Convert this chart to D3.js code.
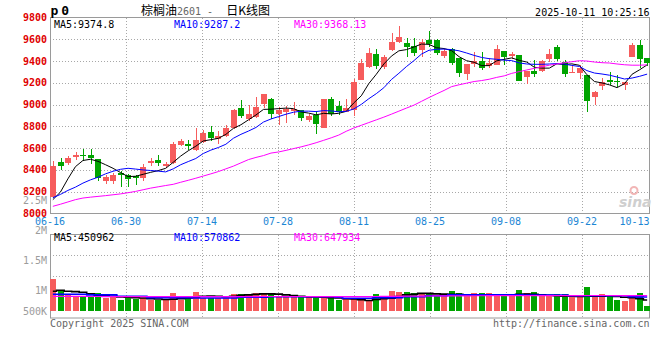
<!DOCTYPE html>
<html>
<head>
<meta charset="utf-8">
<script src="https://cdn.jsdelivr.net/npm/d3@7"></script>
<style>
    body { margin: 0; background: #fff; }
    svg text { font-family: "DejaVu Sans Mono", monospace; font-size: 10px; }
</style>
</head>
<body>
<svg id="chart" width="660" height="360"></svg>
<script>
// trading days shown on the chart
const dates = ["06-16","06-17","06-18","06-19","06-20","06-23","06-24","06-25","06-26","06-27",
    "06-30","07-01","07-02","07-03","07-04","07-07","07-08","07-09","07-10","07-11",
    "07-14","07-15","07-16","07-17","07-18","07-21","07-22","07-23","07-24","07-25",
    "07-28","07-29","07-30","07-31","08-01","08-04","08-05","08-06","08-07","08-08",
    "08-11","08-12","08-13","08-14","08-15","08-18","08-19","08-20","08-21","08-22",
    "08-25","08-26","08-27","08-28","08-29","09-01","09-02","09-03","09-04","09-05",
    "09-08","09-09","09-10","09-11","09-12","09-15","09-16","09-17","09-18","09-19",
    "09-22","09-23","09-24","09-25","09-26","09-29","09-30","10-09","10-10","10-13"]

const openP = [8151,8475,8464,8515,8536,8536,8496,8294,8294,8373,
    8357,8348,8324,8464,8491,8433,8464,8627,8642,8587,
    8657,8751,8682,8712,8782,8969,8864,8884,9005,9051,
    8915,8933,8945,8948,8857,8909,8787,9051,8984,8930,
    8947,9230,9344,9466,9348,9500,9575,9566,9535,9498,
    9590,9594,9448,9515,9424,9278,9370,9400,9355,9364,
    9494,9448,9455,9257,9309,9312,9418,9533,9394,9294,
    9294,9273,9066,9173,9227,9221,9182,9433,9545,9424]
const highP = [8478,8509,8530,8562,8594,8589,8500,8353,8369,8394,
    8366,8351,8453,8509,8539,8475,8657,8685,8673,8782,
    8764,8803,8757,8812,8964,9045,9000,9073,9100,9060,
    8975,8991,9021,8955,8912,8939,9051,9066,9036,9051,
    9235,9418,9518,9515,9455,9662,9725,9612,9616,9603,
    9675,9603,9515,9518,9430,9375,9480,9485,9424,9545,
    9494,9485,9460,9309,9409,9409,9515,9545,9409,9364,
    9364,9273,9127,9248,9303,9273,9212,9570,9591,9430]
const lowP = [8145,8400,8445,8489,8485,8453,8296,8275,8275,8244,
    8239,8266,8294,8439,8433,8418,8455,8618,8582,8575,
    8648,8666,8642,8703,8773,8878,8848,8875,8969,8864,
    8812,8827,8903,8848,8839,8733,8787,8894,8903,8930,
    8894,9227,9333,9330,9325,9494,9569,9439,9444,9439,
    9525,9457,9424,9364,9257,9227,9348,9318,9333,9362,
    9364,9418,9221,9187,9251,9303,9394,9397,9257,9288,
    9233,8930,8994,9130,9182,9166,9136,9433,9333,9355]
const closeP = [8433,8433,8512,8539,8527,8512,8325,8339,8357,8353,
    8316,8325,8430,8478,8464,8455,8642,8666,8624,8678,
    8742,8694,8712,8787,8948,8894,8915,8982,9094,8915,
    8953,8960,8960,8878,8900,8824,9051,8915,8930,8969,
    9212,9380,9476,9357,9439,9573,9625,9530,9478,9573,
    9560,9471,9491,9385,9294,9373,9400,9339,9385,9515,
    9439,9469,9221,9309,9278,9400,9469,9418,9278,9303,
    9339,9030,9112,9212,9212,9215,9212,9545,9418,9378]

const ma5 = [8127,8196,8318,8430,8487,8498,8479,8448,8415,8376,
    8339,8342,8360,8378,8394,8415,8470,8528,8576,8618,
    8666,8678,8690,8727,8782,8815,8860,8905,8956,8958,
    8963,8968,8963,8933,8922,8906,8920,8914,8920,8938,
    9015,9081,9193,9279,9373,9445,9494,9505,9529,9556,
    9553,9522,9515,9496,9440,9403,9389,9358,9358,9402,
    9416,9429,9406,9391,9343,9335,9335,9375,9369,9374,
    9361,9274,9212,9199,9181,9156,9193,9279,9320,9365]
const ma10 = [8145,8175,8212,8242,8279,8309,8333,8364,8388,8406,
    8415,8408,8400,8395,8389,8382,8410,8448,8477,8505,
    8551,8582,8606,8636,8691,8727,8757,8790,8840,8868,
    8890,8912,8930,8940,8940,8936,8945,8942,8934,8938,
    8960,9002,9054,9101,9155,9230,9288,9349,9404,9464,
    9499,9508,9510,9505,9494,9474,9452,9433,9422,9416,
    9408,9404,9383,9373,9370,9370,9373,9377,9372,9360,
    9350,9312,9290,9281,9270,9253,9235,9244,9260,9280]
const ma30 = [8066,8085,8106,8127,8142,8150,8157,8164,8172,8180,
    8191,8203,8218,8233,8245,8257,8268,8287,8305,8324,
    8344,8364,8385,8410,8435,8465,8495,8515,8532,8555,
    8565,8580,8596,8612,8630,8650,8672,8695,8720,8755,
    8785,8810,8835,8860,8885,8912,8940,8968,8995,9030,
    9065,9098,9130,9165,9182,9197,9212,9221,9233,9250,
    9264,9287,9303,9318,9333,9348,9362,9373,9385,9394,
    9403,9400,9391,9385,9382,9373,9366,9362,9362,9365]

// volume in thousands of lots
const volume = [1294,831,641,571,571,600,722,546,627,437,
    546,490,546,464,464,437,722,437,627,763,
    546,546,546,546,682,682,682,722,682,682,
    600,571,571,571,571,571,571,546,437,546,
    546,437,437,682,600,804,763,763,722,682,
    722,641,682,804,722,641,722,722,722,682,
    641,641,845,722,763,600,600,682,682,600,
    600,967,600,682,600,437,396,600,722,192]
const volMa5 = [804,845,804,790,763,700,650,620,600,570,
    560,546,530,500,490,470,480,500,530,560,
    600,610,600,580,600,640,660,680,700,700,
    690,660,630,600,580,570,560,546,531,500,
    490,460,430,470,500,520,590,660,680,720,
    720,700,690,680,680,660,660,650,650,650,
    640,640,680,690,680,660,640,620,600,600,
    590,620,600,600,620,590,560,540,500,451]
const volMa10 = [682,682,682,682,682,660,660,660,660,600,
    600,600,600,540,540,540,540,540,540,530,
    530,530,530,530,530,560,560,560,560,580,
    580,580,580,580,580,580,580,580,560,520,
    520,520,520,540,540,540,540,580,580,580,
    620,620,620,660,660,660,660,660,660,660,
    660,660,660,650,650,650,650,650,650,620,
    620,620,620,620,620,620,620,580,575,571]
const volMa30 = [596,595,594,594,593,592,591,590,590,589,
    588,588,587,587,586,586,586,586,586,586,
    586,586,586,587,587,588,589,590,591,592,
    592,592,592,592,591,590,589,588,587,586,
    586,588,590,592,595,598,601,604,607,610,
    612,614,616,618,620,621,622,623,624,625,
    626,627,628,629,630,630,630,630,630,630,
    630,632,632,632,632,630,628,628,628,627]

const priceTicks = [8000,8200,8400,8600,8800,9000,9200,9400,9600,9800]
const volTicks = [2500,2000,1500,1000,500]
const volTickLabels = ["2.5M","2M","1.5M","1M","500K"]
const dateTicks = ["06-16","06-30","07-14","07-28","08-11","08-25","09-08","09-22","10-13"]
const priceLegend = ["MA5:9374.8","MA10:9287.2","MA30:9368.13"]
const volLegend = ["MA5:450962","MA10:570862","MA30:647934"]
const maColors = ["#000000","#0000ff","#ff00ff"]

const upColor = "#f65c5c"
const downColor = "#00a400"
const gridColor = "#a8a8a8"
const frameColor = "#9a9a9a"

const svg = d3.select("#chart")
const left = 50, right = 649.5
const volTop = 234.5, volBottom = 318

const x = d3.scaleBand().domain(dates).range([50, 650]).paddingInner(0.24).paddingOuter(0)
const y = d3.scaleLinear().domain([8000, 9800]).range([213.5, 17.5])
const vy = d3.scaleLinear().domain([0, 1000]).range([311, 286.5])
const vLabel = d3.scaleLinear().domain([655, 2500]).range([311, 200]).clamp(true)
const xt = d3.scalePoint().domain(dateTicks).range([50, 658])
const cx = d => x(d) + x.bandwidth() / 2
const crisp = v => Math.round(v) + 0.5

// grid
const grid = svg.append("g").attr("stroke", gridColor).attr("stroke-dasharray", "1,2").attr("shape-rendering", "crispEdges")
grid.selectAll(".hp").data(priceTicks.slice(1, -1)).enter().append("line")
    .attr("x1", left).attr("x2", right)
    .attr("y1", d => crisp(y(d))).attr("y2", d => crisp(y(d)))
grid.selectAll(".vp").data(dateTicks.slice(1, -1)).enter().append("line")
    .attr("x1", d => crisp(xt(d))).attr("x2", d => crisp(xt(d)))
    .attr("y1", y(9800)).attr("y2", y(8000))
grid.selectAll(".vv").data(dateTicks.slice(1, -1)).enter().append("line")
    .attr("x1", d => crisp(xt(d))).attr("x2", d => crisp(xt(d)))
    .attr("y1", volTop).attr("y2", volBottom)
grid.selectAll(".hv").data([1, 2]).enter().append("line")
    .attr("x1", left).attr("x2", right)
    .attr("y1", d => crisp(volTop + (volBottom - volTop) * d / 4))
    .attr("y2", d => crisp(volTop + (volBottom - volTop) * d / 4))

// frames
svg.append("rect").attr("x", left + 0.5).attr("y", y(9800)).attr("width", right - left - 0.5)
    .attr("height", y(8000) - y(9800)).attr("fill", "none").attr("stroke", frameColor)
svg.append("rect").attr("x", left + 0.5).attr("y", volTop).attr("width", right - left - 0.5)
    .attr("height", volBottom - volTop).attr("fill", "none").attr("stroke", frameColor)

// sina watermark
const wm = svg.append("g")
wm.append("circle").attr("cx", 634).attr("cy", 190.5).attr("r", 3.5)
    .attr("fill", "none").attr("stroke", "#f2b6b6").attr("stroke-width", 2)
wm.append("text").attr("x", 619).attr("y", 207)
    .style("font-family", "DejaVu Sans").style("font-size", "14px")
    .style("font-style", "italic").style("font-weight", "bold")
    .attr("fill", "#cfcfcf").text("sina")

// candles
const idx = d3.range(dates.length)
const colorOf = i => closeP[i] >= openP[i] ? upColor : downColor
const bw = Math.round(x.bandwidth())
const candles = svg.append("g").attr("shape-rendering", "crispEdges")
candles.selectAll("line").data(idx).enter().append("line")
    .attr("x1", i => Math.round(x(dates[i])) + Math.floor(bw / 2) + 0.5)
    .attr("x2", i => Math.round(x(dates[i])) + Math.floor(bw / 2) + 0.5)
    .attr("y1", i => y(highP[i])).attr("y2", i => y(lowP[i]))
    .attr("stroke", colorOf)
candles.selectAll("rect").data(idx).enter().append("rect")
    .attr("x", i => Math.round(x(dates[i])))
    .attr("width", bw)
    .attr("y", i => y(Math.max(openP[i], closeP[i])))
    .attr("height", i => Math.max(1, Math.abs(y(openP[i]) - y(closeP[i]))))
    .attr("fill", colorOf)

// price moving averages
const priceLine = d3.line().x((d, i) => cx(dates[i])).y(d => y(d))
;[ma5, ma10, ma30].forEach((s, k) => {
    svg.append("path").datum(s).attr("d", priceLine)
        .attr("fill", "none").attr("stroke", maColors[k]).attr("stroke-width", 1)
})

// volume bars
svg.append("g").attr("shape-rendering", "crispEdges")
    .selectAll("rect").data(idx).enter().append("rect")
    .attr("x", i => Math.round(x(dates[i])))
    .attr("width", bw)
    .attr("y", i => vy(volume[i]))
    .attr("height", i => vy(0) - vy(volume[i]))
    .attr("fill", colorOf)

// volume moving averages
const volLine = d3.line().x((d, i) => cx(dates[i])).y(d => vy(d)).curve(d3.curveStep)
;[volMa5, volMa10, volMa30].forEach((s, k) => {
    svg.append("path").datum(s).attr("d", volLine)
        .attr("fill", "none").attr("stroke", maColors[k]).attr("stroke-width", k == 2 ? 1.2 : 1.6)
})

// price axis labels
svg.append("g").selectAll("text").data(priceTicks).enter().append("text")
    .attr("x", 47).attr("y", d => y(d)).attr("dy", "0.35em")
    .attr("text-anchor", "end").attr("fill", "#e00000").style("font-weight", "bold")
    .text(d => d)
// volume axis labels
svg.append("g").selectAll("text").data(volTicks).enter().append("text")
    .attr("x", 47).attr("y", d => vLabel(d)).attr("dy", "0.35em")
    .attr("text-anchor", "end").attr("fill", "#9c9c9c")
    .text((d, i) => volTickLabels[i])
// date labels
svg.append("g").selectAll("text").data(dateTicks).enter().append("text")
    .attr("x", d => Math.min(xt(d), right - 15)).attr("y", 225)
    .attr("text-anchor", "middle").attr("fill", "#1c86d4")
    .text(d => d)

// legends
svg.append("g").selectAll("text").data(priceLegend).enter().append("text")
    .attr("x", (d, i) => 54 + i * 120).attr("y", 27.5)
    .attr("fill", (d, i) => maColors[i]).text(d => d)
svg.append("g").selectAll("text").data(volLegend).enter().append("text")
    .attr("x", (d, i) => 54 + i * 120).attr("y", 241)
    .attr("fill", (d, i) => maColors[i]).text(d => d)

// header
svg.append("text").attr("x", 50.5).attr("y", 15)
    .style("font-size", "13px").style("font-weight", "bold").style("letter-spacing", "3px")
    .text("p0")
const title = svg.append("text").attr("x", 141).attr("y", 15)
title.append("tspan").style("font-family", "'Noto Sans CJK SC'").style("font-size", "12px").text("棕榈油")
title.append("tspan").attr("fill", "#666").text("2601 - ")
title.append("tspan").attr("dx", 7).style("font-family", "'Noto Sans CJK SC'").style("font-size", "12px").text("日K线图")
svg.append("text").attr("x", right).attr("y", 16).attr("text-anchor", "end")
    .text("2025-10-11 10:25:16")

// footer
svg.append("text").attr("x", 50).attr("y", 327).attr("fill", "#666")
    .text("Copyright 2025 SINA.COM")
svg.append("text").attr("x", right).attr("y", 327).attr("text-anchor", "end").attr("fill", "#666")
    .text("http://finance.sina.com.cn")
</script>
</body>
</html>
